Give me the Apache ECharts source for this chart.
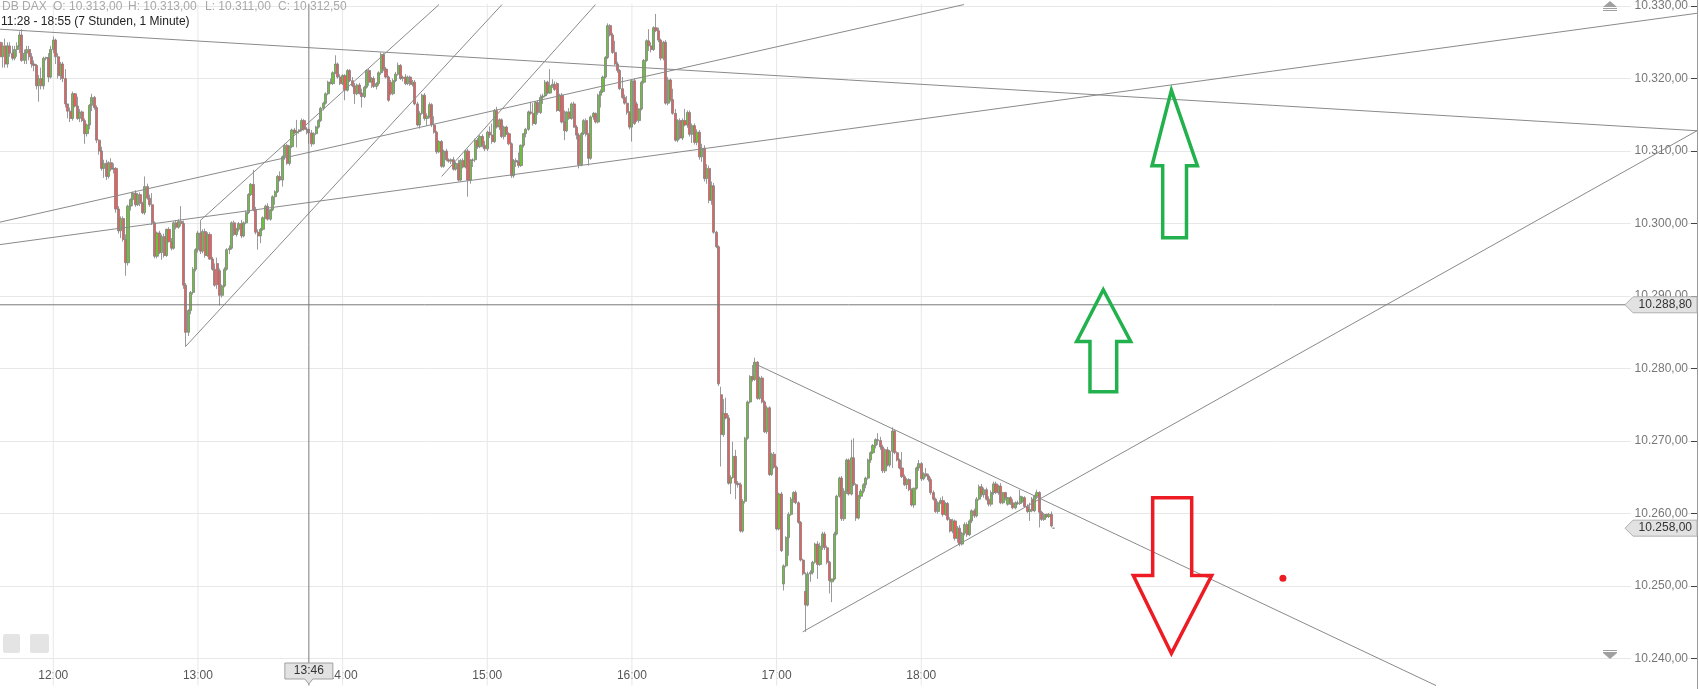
<!DOCTYPE html>
<html><head><meta charset="utf-8">
<script src="https://cdn.jsdelivr.net/npm/echarts@6/dist/echarts.min.js"></script>
<style>html,body{margin:0;padding:0;background:#fff}#c{width:1699px;height:689px}</style>
</head><body><div id="c"></div>
<script>
// ---- data: 1-minute candles, rows are [open, high, low, close] ----
const bars11 = [ // from 11:38
[10325,10325.5,10321.5,10323],[10323,10325,10321.5,10324.5],[10324.5,10325.5,10321.5,10322],[10322,10325,10321.5,10324.5],
[10324.5,10325,10323,10323.5],[10323.5,10324.5,10322.5,10322.8],[10322.8,10324.5,10322.5,10324],[10324,10325,10323,10324.5],
[10324.5,10326.5,10323.5,10326],[10326,10326.8,10322.3,10322.5],[10322.5,10324,10322,10323.5],[10323.5,10324.5,10322,10324],
[10324,10324.5,10322.5,10323],[10323,10323.5,10321.5,10322],[10322,10322.5,10321,10321.8],[10321.8,10322,10318.5,10319],
[10319,10320.5,10316.8,10320],[10320,10321.5,10318.5,10319],[10319,10323,10318.5,10322.8],[10322.8,10323,10322.5,10322.9],
[10322.9,10323.5,10319.5,10320.2],[10320.2,10324.5,10320,10324]];
const bars12 = [ // from 12:00
[10324,10325.8,10323.5,10325.3],[10325.3,10325.5,10322,10323],[10323,10323.5,10320,10320.4],[10320.4,10322.3,10319.8,10322],
[10322,10322.3,10319.5,10320],[10320,10321.3,10316,10316.5],[10316.5,10316.5,10314.5,10315.5],[10315.5,10316,10314,10314.5],
[10314.5,10318.2,10314.2,10317.9],[10317.9,10318,10316,10316.2],[10316.2,10317.5,10314.3,10314.5],[10314.5,10315.8,10314,10315.4],
[10315.4,10315.6,10314,10314.2],[10314.2,10314.5,10311,10312.4],[10312.4,10313.8,10312,10313.6],[10313.6,10316.5,10313,10316.3],
[10316.3,10317.9,10315.5,10317.4],[10317.4,10317.6,10315.7,10316],[10316,10316.3,10311.1,10311.5],[10311.5,10311.6,10309.5,10310],
[10310,10310.6,10307.3,10307.6],[10307.6,10308.8,10306.3,10308.3],[10308.3,10308.8,10306,10306.5],[10306.5,10308.6,10306.2,10308.4],
[10308.4,10309,10307.2,10307.5],[10307.5,10308.3,10306.9,10307.6],[10307.6,10307.8,10301.5,10302],[10302,10302.4,10298.6,10299],
[10299,10301,10298,10300.7],[10300.7,10301,10297.5,10297.8],[10297.8,10298.5,10292.8,10294.6],[10294.6,10302.6,10294.2,10302.4],
[10302.4,10303.5,10301.8,10303.3],[10303.3,10304.4,10302.4,10304.2],[10304.2,10304.6,10302.3,10302.6],[10302.6,10304.2,10302.4,10304],
[10304,10304.3,10302.4,10302.8],[10302.8,10303,10301.3,10301.5],[10301.5,10306.5,10301.2,10305.1],[10305.1,10305.5,10303.3,10303.5],
[10303.5,10304,10302.3,10302.6],[10302.6,10304.2,10299.8,10300.1],[10300.1,10300.3,10295.2,10295.5],[10295.5,10298.9,10295.2,10298.7],
[10298.7,10299,10295.8,10296],[10296,10298.5,10295,10298.2],[10298.2,10298.6,10295.3,10295.6],[10295.6,10299.3,10295.4,10299.2],
[10299.2,10299.5,10297.4,10297.5],[10297.5,10298,10296.3,10296.6],[10296.6,10300.3,10296.4,10300.1],[10300.1,10300.5,10299.2,10299.5],
[10299.5,10300.6,10299.3,10300.3],[10300.3,10302.4,10299.6,10300],[10300,10300.4,10291,10291.5],[10291.5,10291.8,10283,10285],
[10285,10288.2,10284.5,10288],[10288,10290.7,10287.5,10290.5],[10290.5,10294,10290.2,10293.7],[10293.7,10296.6,10293.4,10296.4]];
const bars13 = [ // from 13:00
[10296.4,10299,10296,10298.7],[10298.7,10300.4,10295.8,10296.2],[10296.2,10299.2,10295.9,10298.9],[10298.9,10299.3,10295.3,10295.6],
[10295.6,10298.8,10295.4,10298.5],[10298.5,10298.8,10295,10295.1],[10295.1,10295.4,10293.5,10293.7],[10293.7,10294.5,10291.3,10291.5],
[10294.5,10295.3,10291,10291.6],[10293.5,10293.8,10288.7,10290.1],[10290.1,10291.6,10289.8,10291.4],[10291.4,10294,10291.2,10293.7],
[10293.7,10296.6,10293.5,10296.4],[10296.4,10297,10295.8,10296.6],[10296.6,10300.3,10296.4,10300.1],[10300.1,10300.4,10298.3,10298.5],
[10298.5,10299.4,10298.2,10299.2],[10299.2,10300.2,10298.9,10300],[10300,10300.5,10298,10298.3],[10298.3,10300.3,10298.1,10300.1],
[10300.1,10301.8,10299.9,10301.5],[10301.5,10304.2,10301.3,10304],[10304,10305.6,10303.8,10305.4],[10305.4,10307.4,10301.7,10301.9],
[10301.9,10302.3,10298.5,10298.8],[10298.8,10299.2,10296.4,10298.3],[10298.3,10299.4,10297.3,10299.2],[10299.2,10301,10299,10300.8],
[10300.8,10302.6,10300.6,10302.4],[10302.4,10302.8,10300.4,10300.6],[10300.6,10302,10300.4,10301.9],[10301.9,10303.9,10301.7,10303.7],
[10303.7,10304.6,10302.6,10304.4],[10304.4,10306.7,10304.2,10306.5],[10306.5,10307.2,10305.8,10306],[10306,10309.4,10305.1,10309.2],
[10309.2,10311,10308.8,10310.8],[10310.8,10311,10308.1,10308.3],[10308.3,10310.8,10308,10310.6],[10310.6,10313.1,10310.4,10312.9],
[10312.9,10313.2,10312.3,10312.5],[10312.5,10314.3,10310.5,10312.7],[10312.7,10313,10312.4,10312.9],[10312.9,10314.5,10312.7,10314.2],
[10314.2,10314.4,10312.8,10313],[10313,10313.3,10312.3,10313],[10313,10313,10311,10312.5],[10312.5,10312.9,10310.6,10311],
[10311,10312.6,10310.9,10312.4],[10312.4,10313.5,10312.2,10313.3],[10313.3,10314.4,10313.1,10314.2],[10314.2,10316.1,10314,10315.9],
[10315.9,10316.8,10315.6,10316.6],[10316.6,10318.1,10316.4,10317.9],[10317.9,10319.7,10317.7,10319.5],[10319.5,10320,10319.2,10319.3],
[10319.3,10321,10319.1,10320.8],[10320.8,10323.2,10320.6,10322],[10322,10322.2,10320,10320.2],[10320.2,10320.6,10319.1,10319.3]];
const bars14 = [ // from 14:00
[10319.3,10320.6,10319.1,10320.4],[10320.4,10320.6,10317,10318.4],[10318.4,10321.3,10318.2,10321.1],[10321.1,10321.3,10319.5,10319.7],
[10319.7,10320.2,10318.8,10319],[10319,10319.4,10316.5,10317.9],[10317.9,10319.3,10317.7,10319.1],[10319.1,10319.4,10317.8,10318],
[10318,10318.6,10316,10317.5],[10317.5,10319,10317.3,10318.8],[10318.8,10321.3,10318.6,10321.1],[10321.1,10321.4,10319,10319.5],
[10319.5,10320.2,10318.7,10320],[10320,10320.3,10318.7,10318.9],[10318.9,10319.5,10318.5,10319.3],[10319.3,10321,10319,10320.8],
[10320.8,10323.6,10320.5,10323.3],[10323.3,10323.5,10321,10321.3],[10321.3,10321.6,10320,10320.2],[10320.2,10320.4,10316.8,10317],
[10319.5,10319.8,10317.7,10317.9],[10317.9,10320,10317.7,10319.7],[10319.7,10320.9,10319.5,10320.6],[10320.6,10322.2,10320.4,10321.8],
[10321.8,10322,10319.8,10320],[10320,10320.4,10319.6,10320.2],[10320.2,10320.6,10319.1,10319.3],[10319.3,10320.4,10319.1,10320.2],
[10320.2,10320.4,10319,10319.2],[10319.2,10319.8,10318.9,10319.5],[10319.5,10319.8,10316.3,10316.5],[10316.5,10316.8,10313.4,10313.6],
[10313.6,10315.5,10313.1,10315.2],[10315.2,10317.9,10315,10317.7],[10317.7,10318,10314.2,10314.5],[10314.5,10315.2,10313.5,10314.8],
[10314.8,10316.7,10314.5,10316.4],[10316.4,10316.6,10313.3,10313.6],[10313.6,10314.8,10312.4,10312.6],[10312.6,10312.8,10309.6,10309.9],
[10309.9,10311.5,10309.7,10311.3],[10311.3,10311.5,10307.7,10307.9],[10307.9,10310.2,10307.7,10310],[10310,10310.3,10308.6,10308.8],
[10308.8,10309,10308.4,10308.6],[10308.6,10309,10308.2,10308.8],[10308.8,10309.2,10307.3,10307.5],[10307.5,10308.5,10307.3,10308.3],
[10308.3,10308.8,10305.8,10306],[10306,10308.9,10305.8,10308.7],[10308.7,10309,10307.6,10307.8],[10307.8,10310.2,10307.6,10310],
[10310,10310.3,10303.7,10306],[10306,10308.9,10305.5,10308.7],[10308.7,10309,10307.8,10308.8],[10308.8,10311.7,10308.5,10311.5],
[10311.5,10311.8,10310.3,10310.6],[10310.6,10312.2,10310.4,10312],[10312,10312.3,10310.5,10310.8],[10310.8,10311.4,10310,10310.3]];
const bars15 = [ // from 15:00
[10310.3,10312.8,10310,10312.6],[10312.6,10313.4,10311.8,10312.2],[10312.2,10313.8,10311,10311.3],[10311.3,10315.8,10311.1,10315.6],
[10315.6,10316.1,10313.1,10313.3],[10313.3,10314.5,10312.9,10314.3],[10314.3,10314.5,10311.8,10312],[10312,10313.5,10311.6,10313.3],
[10313.3,10313.5,10312.2,10312.4],[10312.4,10312.6,10310.8,10311],[10311,10311.2,10306.3,10306.6],[10306.6,10308.9,10306.3,10308.7],
[10308.7,10309,10307.8,10308.5],[10308.5,10309.8,10307.7,10308],[10308,10310.9,10307.8,10310.8],[10310.8,10312.5,10310.5,10312.4],
[10312.4,10313.2,10311.9,10313],[10313,10315.6,10312.8,10315.4],[10315.4,10316.8,10315,10315.2],[10315.2,10316.6,10313.5,10313.8],
[10313.8,10316.9,10313.6,10316.7],[10316.7,10317,10315,10315.3],[10315.3,10317.8,10315.1,10317.4],[10317.4,10317.9,10316.5,10317.6],
[10317.6,10319.8,10317.4,10319.5],[10319.5,10319.7,10317.8,10318],[10318,10321.3,10317.9,10319],[10319,10319.9,10318.7,10319.2],
[10319.2,10319.6,10318.3,10318.5],[10319.3,10319.5,10315.4,10315.6],[10315.6,10317.9,10315.4,10317.7],[10317.7,10318,10313.8,10314],
[10314,10315.6,10311.5,10312.8],[10312.8,10315.5,10312.6,10315.4],[10315.4,10315.9,10314.3,10314.5],[10314.5,10316.7,10314.3,10316.5],
[10316.5,10316.8,10313.2,10313.3],[10313.3,10313.6,10311.6,10312.2],[10312.2,10312.5,10307.6,10308.1],[10308.1,10312.6,10307.9,10312.4],
[10312.4,10314.4,10312.2,10314.2],[10314.2,10314.5,10312,10312.3],[10312.3,10312.5,10308,10309],[10309,10314.9,10308.8,10314.7],
[10314.7,10315.4,10314.3,10315.2],[10315.2,10315.3,10313.8,10314],[10314,10317.9,10313.8,10317.7],[10317.7,10318.5,10316,10318.2],
[10318.2,10320.4,10318,10320.2],[10320.2,10323.1,10320,10322.9],[10322.9,10327.6,10322.7,10327.3],[10327.3,10327.5,10325.8,10326],
[10326,10326.3,10323.4,10323.6],[10323.6,10325.2,10321.8,10322],[10322,10322.3,10320.8,10321.1],[10321.1,10321.3,10318.4,10318.6],
[10318.6,10320.2,10317.2,10317.4],[10317.4,10317.8,10316.4,10316.6],[10316.6,10317.6,10315,10315.3],[10315.3,10315.5,10313,10313.3]];
const bars16 = [ // from 16:00
[10313.3,10319.9,10311.3,10319.7],[10319.7,10320,10313.6,10313.8],[10316.5,10316.8,10314,10314.2],[10314.2,10315.9,10313.9,10315.8],
[10315.8,10319.7,10315.6,10319.5],[10319.5,10322.7,10319.3,10322.5],[10322.5,10325.4,10322.3,10325.2],[10325.2,10326.8,10323.8,10324.5],
[10324.5,10325,10323.6,10324],[10324,10327.2,10323.8,10327],[10327,10328.9,10326.4,10326.6],[10326.6,10327,10325,10325.3],
[10325.3,10325.5,10322.5,10322.8],[10322.8,10325.2,10322.5,10325],[10325,10325.3,10316.4,10316.6],[10316.6,10320.2,10316.3,10319.8],
[10319.8,10320,10316.8,10317.1],[10317.1,10318.6,10315,10315.2],[10315.2,10315.8,10311.3,10311.5],[10311.5,10314.4,10311.2,10314.2],
[10314.2,10314.5,10311.6,10311.8],[10311.8,10314.5,10311.5,10314.2],[10314.2,10315.8,10313.4,10313.6],[10313.6,10315.6,10313.2,10315.3],
[10315.3,10315.6,10312,10312.3],[10312.3,10313.8,10311.1,10313.5],[10313.5,10313.8,10310.9,10311.2],[10311.2,10313,10310.8,10312.6],
[10312.6,10312.9,10308.8,10309.2],[10309.2,10311,10308.5,10310.4],[10310.4,10310.8,10305.8,10306.2],[10306.2,10308.2,10305.5,10307.6],
[10307.6,10308,10302.8,10303.2],[10303.2,10305.8,10302.6,10305.2],[10305.2,10305.6,10298.6,10298.8],[10298.8,10299,10296.6,10296.8],
[10296.8,10297,10277.6,10277.9],[10276.4,10277.5,10266.5,10270.9],[10270.9,10275.8,10270.6,10273.8],[10273.8,10276,10273,10273.2],
[10273.2,10273.6,10264,10264.2],[10264.2,10265.3,10262.7,10265],[10265,10269.9,10264.8,10267.9],[10267.9,10268.8,10262,10264.2],
[10264.2,10264.5,10263.6,10264],[10264,10264.3,10257.4,10257.6],[10257.6,10262,10257.4,10261.7],[10261.7,10270.6,10261.4,10270.4],
[10270.4,10275.6,10270.2,10275.4],[10275.4,10279.1,10275.2,10278.9],[10278.9,10280.5,10278.2,10278.5],[10278.5,10281.5,10278.3,10280.9],
[10280.9,10281,10275.7,10275.9],[10275.9,10278.9,10275.7,10278.7],[10278.7,10279,10275.2,10275.4],[10275.4,10275.6,10271.1,10271.3],
[10271.3,10274.9,10271,10274.6],[10274.6,10274.8,10265.2,10265.4],[10265.4,10268.4,10265.2,10268.2],[10268.2,10268.5,10266.2,10266.4]];
const bars17 = [ // from 17:00
[10266.4,10266.6,10257.7,10257.9],[10257.9,10262.9,10257.7,10262.7],[10262.7,10263,10254.7,10254.9],[10250.3,10253,10249.4,10252.8],
[10252.8,10256.9,10252.6,10256.7],[10256.7,10260.2,10254.2,10259.9],[10259.9,10262.3,10259.7,10262],[10262,10263.1,10261.5,10262.9],
[10262.9,10263.2,10261.3,10261.5],[10261.5,10261.7,10258.6,10258.8],[10258.8,10259,10253.4,10253.6],[10253.6,10253.8,10251.5,10251.7],
[10249.3,10251.9,10243.7,10247.4],[10247.4,10252,10247.2,10251.7],[10251.7,10252.2,10250.6,10251.9],[10251.9,10253.5,10251.6,10253.3],
[10253.3,10256,10253.1,10255.8],[10255.8,10256.2,10251,10253],[10253,10256,10252.8,10255.5],[10255.5,10257.5,10255,10257.2],
[10257.2,10257.5,10255,10255.3],[10255.3,10255.6,10253,10253.3],[10253.3,10253.5,10249,10250.8],[10250.6,10251,10247.8,10251],
[10251,10257.5,10250.8,10257.2],[10257.2,10262.6,10257,10262.4],[10262.4,10265.1,10262.2,10264.9],[10264.9,10265.2,10259,10259.3],
[10259.3,10263.5,10259,10263.1],[10263.1,10267.6,10262.7,10267.4],[10267.4,10267.6,10262.5,10262.7],[10262.7,10270.2,10262.5,10267.7],
[10267.7,10270.4,10263.8,10264],[10264,10264.2,10259,10259.4],[10259.4,10262.6,10259.2,10262.4],[10262.4,10263.4,10262,10263.1],
[10263.1,10264.2,10262.8,10264],[10264,10265.1,10263.5,10264.9],[10264.9,10267.6,10264.7,10267.4],[10267.4,10268.6,10267,10268.4],
[10268.4,10269.6,10268.2,10269.4],[10269.4,10270.4,10269,10270.2],[10270.2,10271.1,10269.5,10270.1],[10270.1,10270.6,10268.8,10269.2],
[10269.2,10269.5,10265.6,10265.9],[10265.9,10269,10265.6,10268.8],[10268.8,10269.2,10266.5,10266.7],[10266.7,10268.8,10266.4,10268.6],
[10268.6,10271.9,10266.3,10271.4],[10271.4,10271.6,10268.2,10268.4],[10268.4,10268.6,10267.2,10267.4],[10267.4,10267.6,10266.1,10266.3],
[10266.3,10268.5,10264.9,10265.1],[10265.1,10265.4,10263.8,10264],[10264,10264.9,10263.4,10264.7],[10264.7,10264.9,10263.1,10263.3],
[10263.3,10263.5,10261,10261.2],[10261.2,10263.6,10260.8,10263.5],[10263.5,10266.5,10263.3,10266.3],[10266.3,10267.4,10265.9,10266.9]];
const bars18 = [ // from 18:00
[10266.9,10267.1,10264.5,10264.8],[10264.8,10265.7,10264.6,10265.5],[10265.5,10266.3,10265,10265.2],[10265.2,10265.5,10264.4,10264.7],
[10264.7,10265,10262.6,10262.9],[10262.9,10263.2,10261.8,10262],[10262,10262.2,10260.1,10260.3],[10260.3,10261.7,10260,10261.5],
[10261.5,10262.2,10261.3,10261.8],[10261.8,10262.4,10259.6,10259.9],[10259.9,10261.6,10259.7,10261.4],[10261.4,10261.6,10259,10259.2],
[10259.2,10259.5,10257.4,10257.6],[10257.6,10259.3,10257.3,10259],[10259,10259.2,10256.3,10256.6],[10256.6,10258.3,10256,10258],
[10258,10258.4,10255.5,10255.8],[10255.8,10257.5,10255.6,10257.3],[10257.3,10258.8,10257,10258.5],[10258.5,10258.8,10256.8,10257.1],
[10257.1,10259.2,10256.9,10259],[10259,10260.6,10258.7,10260.4],[10260.4,10260.7,10259.4,10259.7],[10259.7,10262.3,10259.5,10262],
[10262,10264,10261.8,10263.7],[10263.7,10264.1,10262.3,10262.6],[10262.6,10263.6,10262.2,10263.3],[10263.3,10263.6,10261.8,10262],
[10262,10262.4,10261,10261.3],[10261.3,10263.2,10261,10262.9],[10262.9,10264.4,10262.6,10264.1],[10264.1,10264.4,10262.7,10262.9],
[10262.9,10264,10262.6,10263.8],[10263.8,10264.2,10261.3,10261.5],[10261.5,10263,10261.3,10262.9],[10262.9,10263,10261.8,10262.2],
[10261.3,10262.3,10261.1,10262.2],[10262.2,10262.4,10261.2,10261.5],[10261.5,10262,10260.6,10260.8],[10260.8,10261.7,10260.6,10261.5],
[10261.5,10261.8,10261.2,10261.4],[10261.4,10263.3,10261.2,10262.4],[10261.7,10262.4,10261.5,10262.2],[10262.2,10262.4,10260.8,10261],
[10261,10261.3,10260.1,10260.3],[10260.3,10261.5,10259,10260.6],[10262,10262.3,10260.2,10260.4],[10260.4,10262.6,10260.2,10262.4],
[10262.4,10263.3,10262,10262.9],[10262.9,10263.1,10258.1,10260.2],[10260.2,10260.4,10259,10259.2],[10259.2,10260.1,10259,10259.9],
[10259.9,10260,10259.4,10259.6],[10259.6,10260.1,10259.4,10259.9],[10259.9,10260.3,10258.1,10258.3],[10258,10258,10258,10258]];
const sessionStarts = ['11:38','12:00','13:00','14:00','15:00','16:00','17:00','18:00'];
const priceTicks = [10240,10250,10260,10270,10280,10290,10300,10310,10320,10330];
const hourLabels = ['12:00','13:00','14:00','15:00','16:00','17:00','18:00'];
const headerParts = [['DB DAX',2],['O: 10.313,00',53],['H: 10.313,00',128],['L: 10.311,00',205],['C: 10.312,50',278]];
const headerRange = '11:28 - 18:55 (7 Stunden, 1 Minute)';
const markedLevel = 10288.8;
const cursorTime = '13:46';
// drawn trend lines: [[minute of day, price],[minute of day, price]]
const trendLines = [
  [[697.9,10326.8],[1401.75,10312.8]],
  [[697.9,10300.2],[1097.7,10330.2]],
  [[697.9,10297.1],[1401.75,10329.0]],
  [[780.9,10300.4],[880.0,10330.2]],
  [[775.0,10283.1],[906.1,10330.2]],
  [[881.1,10306.5],[944.9,10330.2]],
  [[1011.75,10280.55],[1293.5,10236.3]],
  [[1030.8,10243.7],[1401.75,10312.8]]
];
const greenArrowSmall = [[1155.5,10290.88],[1166.87,10283.75],[1161.06,10283.75],[1161.06,10276.81],[1149.98,10276.81],[1149.98,10283.75],[1144.47,10283.75]];
const greenArrowBig = [[1183.75,10318.36],[1194.53,10307.97],[1190.01,10307.97],[1190.01,10298.04],[1180.14,10298.04],[1180.14,10307.97],[1175.70,10307.97]];
const redArrow = [[1175.99,10262.19],[1192.17,10262.19],[1192.17,10251.47],[1200.46,10251.47],[1183.75,10240.73],[1167.95,10251.47],[1175.99,10251.47]];
const redDot = [1230.0,10251.1];

// ---- helpers ----
const toMin = s => { const p = s.split(':'); return +p[0]*60 + (+p[1]); };
const pad = n => (n<10?'0':'')+n;
const fmtTime = m => pad(Math.floor(m/60)) + ':' + pad(Math.round(m%60));
const fmtPrice = v => { const s = v.toFixed(2).split('.'); return s[0].replace(/\B(?=(\d{3})+(?!\d))/g,'.') + ',' + s[1]; };

const sessions = [bars11, bars12, bars13, bars14, bars15, bars16, bars17, bars18];
const candleData = [];
sessions.forEach((rows, k) => {
  const t0 = toMin(sessionStarts[k]);
  rows.forEach((r, i) => candleData.push([t0 + i, r[0], r[3], r[2], r[1]]));
});
const lastClose = bars18[bars18.length-1][3];

const chart = echarts.init(document.getElementById('c'), null, {renderer:'canvas', width:1699, height:689});
const X_MIN = 697.9, X_MAX = 1401.75;

const series = [];
hourLabels.forEach(h => series.push({type:'line', z:1, silent:true, symbol:'none', clip:false,
  data:[[toMin(h),10236.3],[toMin(h),10330.3]], lineStyle:{color:'#e8e8e8', width:1}}));
series.push({type:'candlestick', z:2, data:candleData, encode:{x:0, y:[1,2,3,4]}, barWidth:2.6,
  itemStyle:{color:'#6cc13a', color0:'#f25b5b', borderColor:'#808080', borderColor0:'#808080', borderWidth:0.8}});
trendLines.forEach(l => series.push({type:'line', z:3, silent:true, symbol:'none', clip:false, data:l,
  lineStyle:{color:'#8a8a8a', width:1}}));
series.push({type:'line', z:3, silent:true, symbol:'none', clip:false, data:[[X_MIN,markedLevel],[X_MAX,markedLevel]], lineStyle:{color:'#7a7a7a', width:1}});
series.push({type:'line', z:3, silent:true, symbol:'none', clip:false, data:[[toMin(cursorTime),10236.3],[toMin(cursorTime),10330.3]], lineStyle:{color:'#7a7a7a', width:1}});

chart.setOption({
  animation:false,
  backgroundColor:'#fff',
  grid:{left:0, right:2, top:1.7, bottom:30.3},
  xAxis:{type:'value', min:X_MIN, max:X_MAX,
    axisLine:{show:false}, axisTick:{show:false}, splitLine:{show:false},
    axisLabel:{color:'#555', fontSize:12, fontFamily:'Arial', margin:11,
      customValues: hourLabels.map(toMin), formatter: v => fmtTime(v)}},
  yAxis:{type:'value', position:'right', min:10240, max:10330, interval:10,
    axisLine:{show:true, lineStyle:{color:'#9a9a9a'}},
    axisTick:{show:true, inside:true, length:6, lineStyle:{color:'#444'}},
    splitLine:{lineStyle:{color:'#e8e8e8'}},
    axisLabel:{inside:true, margin:9, color:'#777', fontSize:12, fontFamily:'Arial', backgroundColor:'#fff', padding:[0,0,0,4],
      formatter: v => fmtPrice(v)}},
  series: series
});

const P = (t,v) => chart.convertToPixel({xAxisIndex:0, yAxisIndex:0}, [t,v]);
const g = [];
headerParts.forEach(p => g.push({type:'text', x:p[1], y:1, z:10, style:{text:p[0], fill:'#a8a8a8', font:'12px Arial'}}));
g.push({type:'text', x:1, y:16, z:10, style:{text:headerRange, fill:'#222', font:'12px Arial'}});
function priceBox(v, txt){
  const y = P(1000, v)[1];
  g.push({type:'polygon', z:20, shape:{points:[[1625,y],[1633,y-8],[1697,y-8],[1697,y+8],[1633,y+8]]}, style:{fill:'#e2e2e2', stroke:'#b0b0b0', lineWidth:1}});
  g.push({type:'text', z:21, x:1692, y:y, style:{text:txt, fill:'#333', font:'12px Arial', align:'right', verticalAlign:'middle'}});
}
priceBox(markedLevel, fmtPrice(markedLevel));
priceBox(lastClose, fmtPrice(lastClose));
const cx = P(toMin(cursorTime), 10300)[0];
g.push({type:'polygon', z:20, shape:{points:[[cx-24,663],[cx+24,663],[cx+24,679],[cx+4,679],[cx,684],[cx-4,679],[cx-24,679]]}, style:{fill:'#e2e2e2', stroke:'#a0a0a0', lineWidth:1}});
g.push({type:'text', z:21, x:cx, y:671, style:{text:cursorTime, fill:'#333', font:'12px Arial', align:'center', verticalAlign:'middle'}});
function arrow(pts, color){
  g.push({type:'polygon', z:15, shape:{points:pts.map(p=>P(p[0],p[1]))}, style:{fill:null, stroke:color, lineWidth:3.5, lineJoin:'miter'}});
}
arrow(greenArrowSmall, '#22b14c');
arrow(greenArrowBig, '#22b14c');
arrow(redArrow, '#ed1c24');
const rd = P(redDot[0], redDot[1]);
g.push({type:'circle', z:15, shape:{cx:rd[0], cy:rd[1], r:3.5}, style:{fill:'#ed1c24'}});
g.push({type:'line', z:5, shape:{x1:1697.5,y1:0,x2:1697.5,y2:689}, style:{stroke:'#9a9a9a', lineWidth:1}});
g.push({type:'polygon', z:5, shape:{points:[[1603,7],[1610,1],[1617,7]]}, style:{fill:'#a0a0a0'}});
g.push({type:'rect', z:5, shape:{x:1603,y:8,width:14,height:1}, style:{fill:'#a0a0a0'}});
g.push({type:'rect', z:5, shape:{x:1603,y:10,width:14,height:1}, style:{fill:'#a0a0a0'}});
g.push({type:'rect', z:5, shape:{x:1603,y:650,width:14,height:1}, style:{fill:'#a0a0a0'}});
g.push({type:'rect', z:5, shape:{x:1603,y:652,width:14,height:1}, style:{fill:'#a0a0a0'}});
g.push({type:'polygon', z:5, shape:{points:[[1603,653],[1617,653],[1610,659]]}, style:{fill:'#a0a0a0'}});
g.push({type:'rect', z:5, shape:{x:3,y:634,width:17,height:19,r:2}, style:{fill:'#e4e4e4'}});
g.push({type:'rect', z:5, shape:{x:30,y:634,width:19,height:19,r:2}, style:{fill:'#e4e4e4'}});
chart.setOption({graphic:g});
</script></body></html>
